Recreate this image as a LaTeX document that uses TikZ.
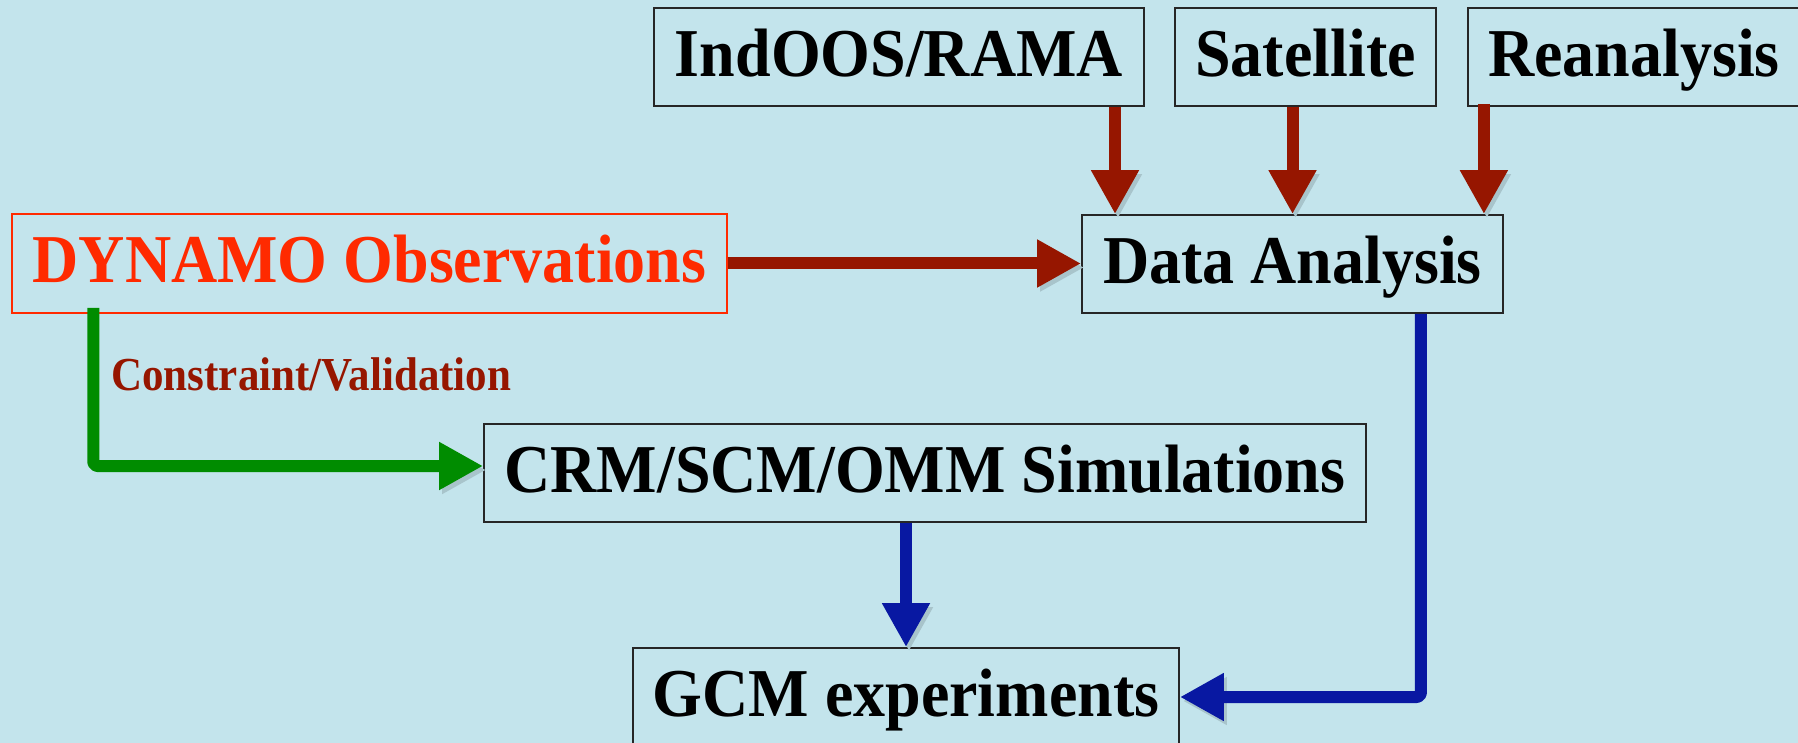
\documentclass[tikz,border=0pt]{standalone}
\usepackage{fontspec}
\usepackage{graphicx}
\setmainfont{Liberation Serif}
\usetikzlibrary{arrows.meta}
\definecolor{bgblue}{RGB}{195,228,236}
\definecolor{arrred}{RGB}{150,22,0}
\definecolor{arrblue}{RGB}{8,24,162}
\definecolor{arrgreen}{RGB}{0,140,0}
\definecolor{dynred}{RGB}{255,42,0}
\newcommand\talltext[1]{\scalebox{1}[1.07]{#1}}
\tikzset{
  boxnode/.style={draw=black!85, line width=1.8pt, rectangle, inner sep=0pt,
    minimum height=98pt, text height=39pt, text depth=0pt,
    font=\fontsize{64}{70}\selectfont\bfseries},
  conn/.style={line width=12pt, line join=round, rounded corners=4pt,
    -{Triangle[length=44pt,width=45pt]},
    preaction={draw=bgblue!86!black, transform canvas={shift={(3pt,-4pt)}}}},
  redconn/.style={conn, arrred},
  blueconn/.style={conn, arrblue},
  greenconn/.style={conn, arrgreen},
}
\begin{document}
\begin{tikzpicture}[x=1pt,y=-1pt]
\fill[bgblue] (0,0) rectangle (1798,743);
\useasboundingbox (0,0) rectangle (1798,743);
\begin{scope}
\clip (0,0) rectangle (1798,743);
\node[boxnode, minimum width=490pt] (ind) at (899,57) {\talltext{IndOOS/RAMA}};
\node[boxnode, minimum width=261pt] (sat) at (1305.5,57) {\talltext{Satellite}};
\node[boxnode, minimum width=332pt] (rea) at (1634,57) {\talltext{Reanalysis}};
\node[boxnode, minimum width=421pt] (data) at (1292.5,264) {\talltext{Data Analysis}};
\node[boxnode, minimum width=715pt, minimum height=99pt, draw=dynred, line width=1.5pt, text=dynred] (dyn) at (369.5,263.5) {\talltext{DYNAMO Observations}};
\node[boxnode, minimum width=882pt] (crm) at (925,473) {\talltext{CRM/SCM/OMM Simulations}};
\node[boxnode, minimum width=546pt] (gcm) at (906,697) {\talltext{GCM experiments}};
\node[anchor=base west, inner sep=0pt, text=arrred, font=\fontsize{43}{48}\selectfont\bfseries] (lbl) at ([xshift=100pt,yshift=-77pt]dyn.south west) {\scalebox{1}[1.1]{Constraint/Validation}};

\draw[redconn] ([xshift=216pt]ind.south) -- ([xshift=216pt]ind.south |- data.north);
\draw[redconn] (data.north |- sat.south) -- (data.north);
\draw[redconn] ([xshift=-20pt,yshift=3pt]data.north east |- rea.south) -- ([xshift=-20pt]data.north east);
\draw[redconn] (dyn.east) -- (dyn.east -| data.west);
\draw[greenconn] ([xshift=82pt,yshift=6pt]dyn.south west) |- ([yshift=7pt]crm.west);
\draw[blueconn] (gcm.north |- crm.south) -- (gcm.north);
\draw[blueconn] ([xshift=-83pt]data.south east) |- (gcm.east);
\end{scope}
\end{tikzpicture}
\end{document}
